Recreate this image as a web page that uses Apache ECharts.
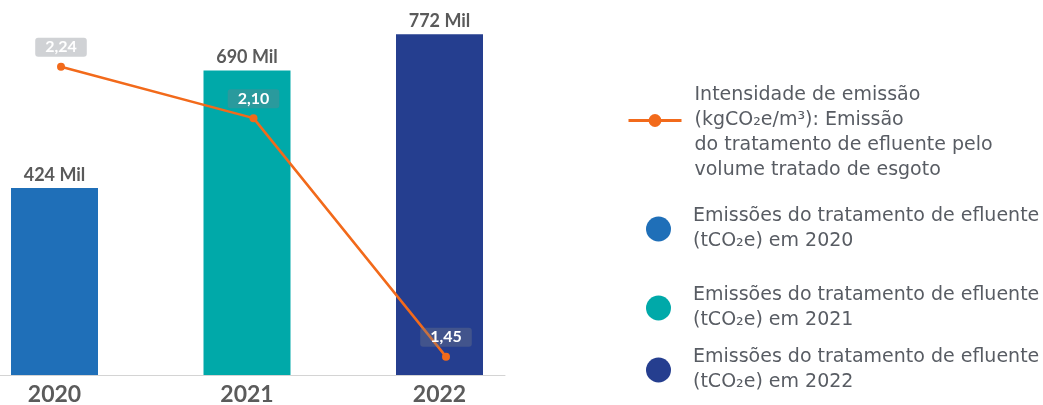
<!DOCTYPE html>
<html>
<head>
<meta charset="utf-8">
<script src="https://cdn.jsdelivr.net/npm/echarts@6/dist/echarts.min.js"></script>
<style>
  html, body { margin: 0; padding: 0; background: #fff; }
  #chart { width: 1043px; height: 405px; }
</style>
</head>
<body>
<div id="chart"></div>
<script>
  // dados
  const years = ['2020', '2021', '2022']
  const emissoes = [424, 690, 772] // mil tCO2e
  const intensidade = [2.24, 2.10, 1.45] // kgCO2e/m3

  const barColors = ['#1F6FB8', '#00A9A9', '#253E8F']
  const lineColor = '#F26A1B'

  const lineName = 'Intensidade de emissão\n(kgCO₂e/m³): Emissão\ndo tratamento de efluente pelo\nvolume tratado de esgoto'
  const barNames = years.map(y => 'Emissões do tratamento de efluente\n(tCO₂e) em ' + y)

  const font = 'Lato'
  const legendText = { color: '#585c63', fontSize: 19, lineHeight: 25, fontFamily: 'DejaVu Sans' }

  const chart = echarts.init(document.getElementById('chart'))

  // uma série por ano, sobrepostas na mesma categoria
  const barSeries = years.map((y, i) => ({
    name: barNames[i],
    type: 'bar',
    xAxisIndex: 0,
    yAxisIndex: 0,
    barWidth: 87,
    barGap: '-100%',
    itemStyle: { color: barColors[i] },
    label: {
      show: true,
      position: 'top',
      distance: 4,
      formatter: p => p.value + ' Mil',
      color: '#5a5a5a',
      fontWeight: 'bold',
      fontSize: 18,
      fontFamily: font
    },
    data: emissoes.map((v, j) => (j === i ? v : '-'))
  }))

  const labelBg = 'rgba(120,125,135,0.35)'

  chart.setOption({
    animation: false,
    textStyle: { fontFamily: font },
    grid: [
      { left: -41.75, width: 577.5, top: 22, height: 353, outerBoundsMode: 'none' },
      { left: -35.25, width: 577.5, top: 22, height: 353, outerBoundsMode: 'none' },
      { left: 0, width: 505, top: 22, height: 353, outerBoundsMode: 'none' }
    ],
    xAxis: [{
      type: 'category',
      gridIndex: 0,
      data: years,
      axisLine: { show: false },
      axisTick: { show: false },
      axisLabel: {
        margin: 8,
        color: '#5b5b5b',
        fontSize: 23,
        fontWeight: 'bold',
        fontFamily: font
      }
    }, {
      type: 'category',
      gridIndex: 1,
      data: years,
      show: false
    }, {
      type: 'value',
      gridIndex: 2,
      min: 0,
      max: 1,
      axisLine: { show: true, lineStyle: { color: '#d4d4d4', width: 1 } },
      axisTick: { show: false },
      axisLabel: { show: false },
      splitLine: { show: false }
    }],
    yAxis: [{
      type: 'value',
      gridIndex: 0,
      min: 0,
      max: 800,
      show: false
    }, {
      type: 'value',
      gridIndex: 1,
      min: 1.40,
      max: 2.362,
      show: false
    }, {
      type: 'value',
      gridIndex: 2,
      min: 0,
      max: 1,
      show: false
    }],
    legend: [{
      data: [lineName],
      left: 627,
      top: 58,
      padding: 0,
      itemWidth: 53,
      itemHeight: 16,
      selectedMode: false,
      formatter: n => '\n' + n, // linha vazia para alinhar o ícone à 2ª linha
      lineStyle: { width: 3 },
      textStyle: Object.assign({ padding: [0, 0, 0, 8] }, legendText)
    }].concat(barNames.map((n, i) => ({
      data: [n],
      left: 646,
      top: [204, 283, 345][i],
      padding: 0,
      icon: 'circle',
      itemWidth: 25,
      itemHeight: 25,
      selectedMode: false,
      textStyle: Object.assign({ padding: [0, 0, 0, 17] }, legendText)
    }))),
    series: barSeries.concat([{
      name: lineName,
      type: 'line',
      xAxisIndex: 1,
      yAxisIndex: 1,
      symbol: 'circle',
      symbolSize: 8,
      z: 5,
      itemStyle: { color: lineColor },
      lineStyle: { color: lineColor, width: 2.5 },
      label: {
        show: true,
        position: 'top',
        distance: 6,
        formatter: p => p.value.toFixed(2).replace('.', ','),
        color: '#fff',
        fontWeight: 'bold',
        fontSize: 16,
        lineHeight: 17,
        fontFamily: font,
        backgroundColor: labelBg,
        borderRadius: 3,
        padding: [1, 10, 1, 10]
      },
      data: intensidade
    }])
  })
</script>
</body>
</html>
